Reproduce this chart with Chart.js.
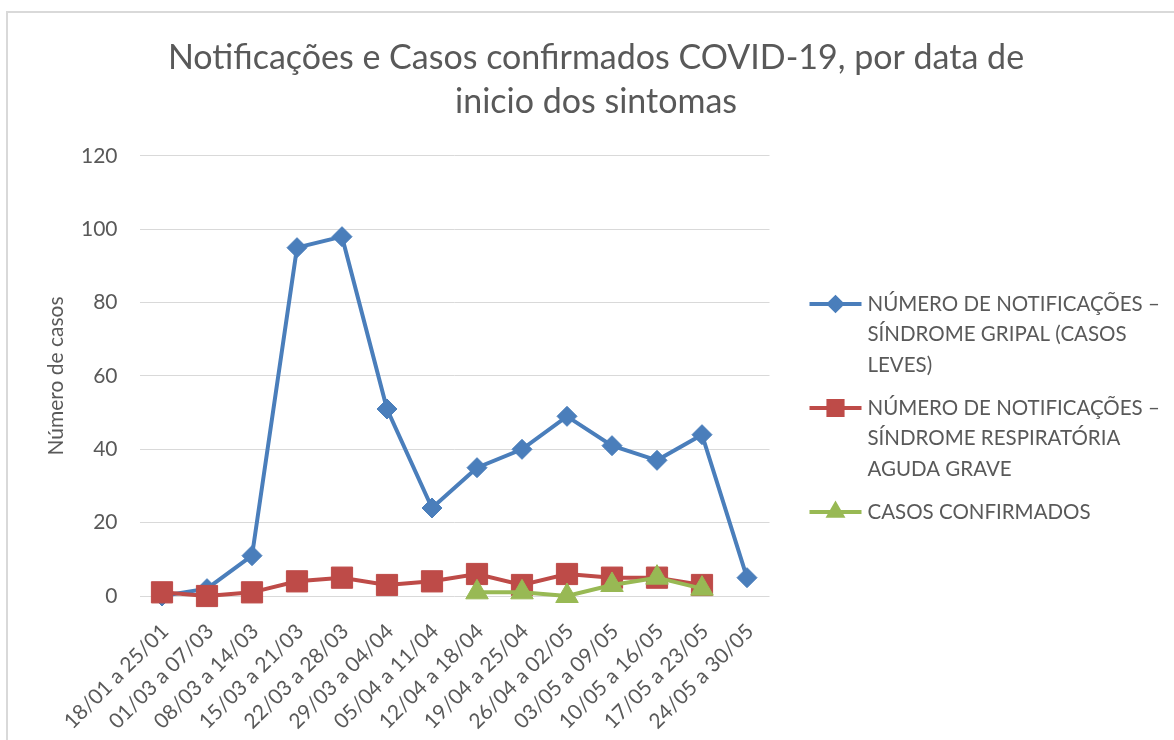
<!DOCTYPE html>
<html><head><meta charset="utf-8">
<script src="https://cdn.jsdelivr.net/npm/chart.js@4.4.1/dist/chart.umd.min.js"></script>
<style>html,body{margin:0;padding:0;background:#fff;overflow:hidden}#wrap{position:relative;width:1174px;height:740px}</style>
</head><body><div id="wrap"><canvas id="c"></canvas></div>
<script>
const categories = ['18/01 a 25/01','01/03 a 07/03','08/03 a 14/03','15/03 a 21/03','22/03 a 28/03','29/03 a 04/04','05/04 a 11/04','12/04 a 18/04','19/04 a 25/04','26/04 a 02/05','03/05 a 09/05','10/05 a 16/05','17/05 a 23/05','24/05 a 30/05'];
const sindromeGripal = [0, 2, 11, 95, 98, 51, 24, 35, 40, 49, 41, 37, 44, 5];
const srag = [1, 0, 1, 4, 5, 3, 4, 6, 3, 6, 5, 5, 3, null];
const confirmados = [null, null, null, null, null, null, null, 1, 1, 0, 3, 5, 2, null];
const yTicks = [0, 20, 40, 60, 80, 100, 120];
const legendLines = [
  ['NÚMERO DE NOTIFICAÇÕES –', 'SÍNDROME GRIPAL (CASOS', 'LEVES)'],
  ['NÚMERO DE NOTIFICAÇÕES –', 'SÍNDROME RESPIRATÓRIA', 'AGUDA GRAVE'],
  ['CASOS CONFIRMADOS']
];
const titleLines = ['Notificações e Casos confirmados COVID-19, por data de', 'inicio dos sintomas'];
const yTitle = 'Número de casos';

const TXT = '#595959';
const FONT = 'Lato, "Open Sans", sans-serif';

const frame = {
  id: 'frame',
  beforeDraw(chart) {
    const ctx = chart.ctx;
    ctx.save();
    ctx.strokeStyle = '#d9d9d9';
    ctx.lineWidth = 2;
    ctx.strokeRect(7, 12, 1300, 900);
    ctx.restore();
  }
};

const sideLegend = {
  id: 'sideLegend',
  afterDraw(chart) {
    const ctx = chart.ctx, a = chart.chartArea;
    const x0 = a.right + 40, x1 = a.right + 92, tx = a.right + 98;
    let y = a.top + 148;
    ctx.save();
    chart.data.datasets.forEach((ds, i) => {
      ctx.strokeStyle = ds.borderColor;
      ctx.fillStyle = ds.backgroundColor;
      ctx.lineWidth = ds.borderWidth;
      ctx.beginPath(); ctx.moveTo(x0, y); ctx.lineTo(x1, y); ctx.stroke();
      Chart.helpers.drawPoint(ctx, {pointStyle: ds.pointStyle, radius: ds.legendRadius, rotation: 0, borderWidth: 1}, (x0 + x1) / 2, y);
      ctx.font = '20.5px ' + FONT;
      ctx.fillStyle = TXT;
      ctx.textAlign = 'left';
      ctx.textBaseline = 'middle';
      const lines = legendLines[i];
      lines.forEach((t, j) => ctx.fillText(t, tx, y + j * 30.5));
      y += (lines.length - 1) * 30.5 + 43;
    });
    ctx.restore();
  }
};

new Chart(document.getElementById('c'), {
  type: 'line',
  data: {
    labels: categories,
    datasets: [
      {label: legendLines[0].join(' '), data: sindromeGripal, borderColor: '#4A7EBB', backgroundColor: '#4A7EBB', borderWidth: 4,
       pointStyle: 'rectRot', pointRadius: 10, pointHoverRadius: 10, pointBorderWidth: 1, legendRadius: 6.5, order: 2, clip: false},
      {label: legendLines[1].join(' '), data: srag, borderColor: '#BE4B48', backgroundColor: '#BE4B48', borderWidth: 4,
       pointStyle: 'rect', pointRadius: 15, pointHoverRadius: 15, pointBorderWidth: 1, legendRadius: 10, order: 1, clip: false},
      {label: legendLines[2].join(' '), data: confirmados, borderColor: '#98B954', backgroundColor: '#98B954', borderWidth: 4,
       pointStyle: 'triangle', pointRadius: 13, pointHoverRadius: 13, pointBorderWidth: 1, legendRadius: 7.5, order: 0, clip: false}
    ]
  },
  options: {
    responsive: true,
    maintainAspectRatio: false,
    animation: false,
    layout: {padding: {left: 18, right: 0, top: 0, bottom: 0}},
    plugins: {
      legend: {display: false},
      tooltip: {enabled: false},
      title: {
        display: true, text: titleLines, color: TXT,
        font: {family: FONT, size: 34, weight: 'normal', lineHeight: 1.294},
        padding: {top: 36, bottom: 32}
      }
    },
    scales: {
      x: {
        type: 'category', offset: true,
        grid: {display: false},
        border: {display: false},
        ticks: {color: TXT, font: {family: FONT, size: 21}, minRotation: 45, maxRotation: 45, autoSkip: false, padding: 15, labelOffset: 3},
        afterFit(s) { s.height = 144; }
      },
      y: {
        min: yTicks[0], max: yTicks[yTicks.length - 1],
        ticks: {stepSize: yTicks[1] - yTicks[0], color: TXT, font: {family: FONT, size: 21}, padding: 22},
        grid: {color: '#d9d9d9', lineWidth: 1, drawTicks: false},
        border: {display: false},
        title: {display: true, text: yTitle, color: TXT, font: {family: FONT, size: 21}, padding: {top: 26, bottom: 0}},
        afterFit(s) { s.width = 121.5; }
      },
      yR: {
        position: 'right', display: true,
        grid: {display: false, drawTicks: false}, border: {display: false},
        ticks: {display: false},
        afterFit(s) { s.width = 404.5; }
      }
    }
  },
  plugins: [frame, sideLegend]
});
</script>
</body></html>
